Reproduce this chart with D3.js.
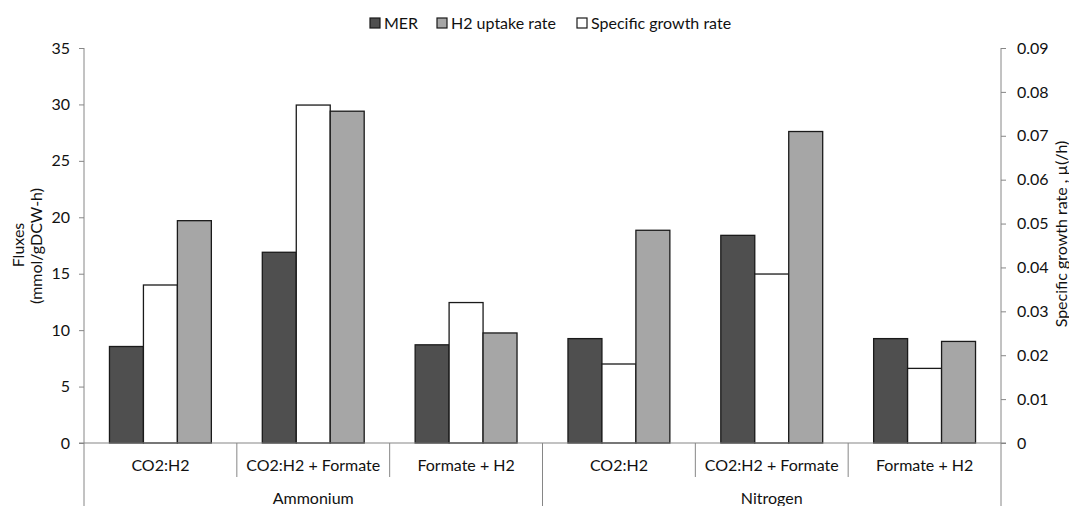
<!DOCTYPE html>
<html>
<head>
<meta charset="utf-8">
<script src="https://cdn.jsdelivr.net/npm/d3@7"></script>
<style>
  html, body { margin: 0; padding: 0; background: #fff; }
  svg { display: block; }
  text { font-family: Lato, "Open Sans", sans-serif; fill: #111; }
</style>
</head>
<body>
<svg id="chart" width="1069" height="506"></svg>
<script>
// ---- data ----
const categories = ["CO2:H2", "CO2:H2 + Formate", "Formate + H2", "CO2:H2", "CO2:H2 + Formate", "Formate + H2"];
const groups = ["Ammonium", "Nitrogen"];
const merValues = [8.55, 16.9, 8.7, 9.25, 18.4, 9.25];
const h2Values = [19.7, 29.4, 9.75, 18.85, 27.6, 9.0];
const growthValues = [0.036, 0.077, 0.032, 0.018, 0.0385, 0.017];
const leftTicks = [0, 5, 10, 15, 20, 25, 30, 35];
const rightTicks = [0, 0.01, 0.02, 0.03, 0.04, 0.05, 0.06, 0.07, 0.08, 0.09];
const seriesNames = ["MER", "H2 uptake rate", "Specific growth rate"];
const seriesColors = {"MER": "#4f4f4f", "H2 uptake rate": "#a6a6a6", "Specific growth rate": "#ffffff"};
const clusterOrder = ["MER", "Specific growth rate", "H2 uptake rate"];

(function () {
const svg = d3.select("#chart");
const mLeft = 84, mRight = 1001, mTop = 48, mBottom = 443;
const axisColor = "#868686";
const fs = "16px";

const x = d3.scaleBand().domain(d3.range(categories.length)).range([mLeft, mRight]).padding(0);
const xi = d3.scaleBand().domain(clusterOrder).range([0, x.bandwidth()]).paddingInner(0).paddingOuter(0.75);
const yL = d3.scaleLinear().domain([0, 35]).range([mBottom, mTop]);
const yR = d3.scaleLinear().domain([0, 0.09]).range([mBottom, mTop]);

// bars
const rows = categories.map((c, i) => ({
  i,
  vals: [
    {s: "MER", v: merValues[i], y: yL},
    {s: "Specific growth rate", v: growthValues[i], y: yR},
    {s: "H2 uptake rate", v: h2Values[i], y: yL}
  ]
}));
const g = svg.append("g");
rows.forEach(r => {
  r.vals.forEach(d => {
    const x0 = x(r.i) + xi(d.s);
    const yy = d.y(d.v);
    g.append("rect")
      .attr("x", x0).attr("y", yy)
      .attr("width", xi.bandwidth()).attr("height", mBottom - yy)
      .attr("fill", seriesColors[d.s])
      .attr("stroke", "#1a1a1a").attr("stroke-width", 1.3);
  });
});

// left axis
const axL = svg.append("g").attr("transform", `translate(${mLeft},0)`)
  .call(d3.axisLeft(yL).tickValues(leftTicks).tickSize(5).tickPadding(9).tickFormat(d3.format("d")));
axL.select(".domain").remove();
axL.selectAll(".tick line").attr("stroke", axisColor);
axL.selectAll("text").style("font-size", fs).style("font-family", "Lato, sans-serif");
svg.append("line").attr("x1", mLeft).attr("x2", mLeft).attr("y1", mTop).attr("y2", 506)
  .attr("stroke", axisColor).attr("stroke-width", 1);

// right axis
const axR = svg.append("g").attr("transform", `translate(${mRight},0)`)
  .call(d3.axisRight(yR).tickValues(rightTicks).tickSize(5).tickPadding(11)
    .tickFormat(d => d === 0 ? "0" : d3.format(".2f")(d)));
axR.select(".domain").remove();
axR.selectAll(".tick line").attr("stroke", axisColor);
axR.selectAll("text").style("font-size", fs).style("font-family", "Lato, sans-serif");
svg.append("line").attr("x1", mRight).attr("x2", mRight).attr("y1", mTop).attr("y2", 506)
  .attr("stroke", axisColor).attr("stroke-width", 1);

// baseline
svg.append("line").attr("x1", mLeft - 5).attr("x2", mRight + 5).attr("y1", mBottom).attr("y2", mBottom)
  .attr("stroke", axisColor).attr("stroke-width", 1.2);

// category separators
d3.range(1, categories.length).forEach(i => {
  const xx = x(i);
  const full = (i % 3 === 0);
  svg.append("line").attr("x1", xx).attr("x2", xx).attr("y1", mBottom).attr("y2", full ? 506 : 477)
    .attr("stroke", axisColor).attr("stroke-width", 1);
});

// category labels
categories.forEach((c, i) => {
  svg.append("text").attr("x", x(i) + x.bandwidth() / 2).attr("y", 471)
    .attr("text-anchor", "middle").style("font-size", fs).text(c);
});
groups.forEach((gname, k) => {
  const x0 = x(k * 3), x1 = x(k * 3 + 2) + x.bandwidth();
  svg.append("text").attr("x", (x0 + x1) / 2).attr("y", 504)
    .attr("text-anchor", "middle").style("font-size", fs).text(gname);
});

// axis titles
svg.append("text").attr("transform", "translate(24,245) rotate(-90)")
  .attr("text-anchor", "middle").style("font-size", fs).text("Fluxes");
svg.append("text").attr("transform", "translate(42,246) rotate(-90)")
  .attr("text-anchor", "middle").style("font-size", fs).text("(mmol/gDCW-h)");
svg.append("text").attr("transform", "translate(1067,234) rotate(-90)")
  .attr("text-anchor", "middle").style("font-size", fs).text("Specific growth rate , µ(/h)");

// legend
const legendX = [370, 437, 577];
seriesNames.forEach((s, k) => {
  svg.append("rect").attr("x", legendX[k]).attr("y", 18).attr("width", 10).attr("height", 10)
    .attr("fill", seriesColors[s]).attr("stroke", "#1a1a1a").attr("stroke-width", 1.2);
  svg.append("text").attr("x", legendX[k] + 14).attr("y", 28.5).style("font-size", fs).text(s);
});
})();
</script>
</body>
</html>
